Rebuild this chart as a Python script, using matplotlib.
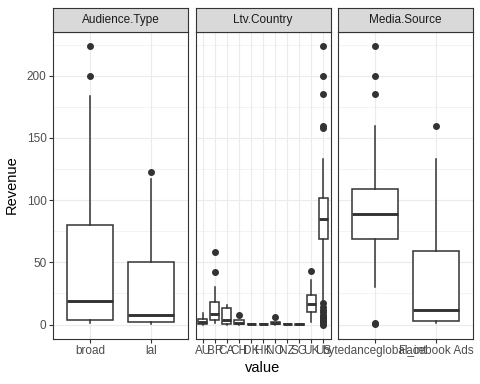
import matplotlib
matplotlib.use("Agg")
import matplotlib.pyplot as plt

plt.rcParams['font.family'] = ['Liberation Sans', 'DejaVu Sans']

# Audience.Type
aud_labels = ["broad", "lal"]
aud_q1 = [4, 2.4]
aud_med = [19, 8]
aud_q3 = [80, 50]
aud_lo = [1.3, 0.5]
aud_hi = [184, 117]
aud_fliers = [[200, 224], [123]]

# Ltv.Country
cty_labels = ["AU", "BR", "CA", "CH", "DK", "HK", "NO", "NZ", "SG", "UK", "US"]
cty_q1 = [0.3, 4, 0.8, 0.2, 0.1, 0.1, 0.2, 0.3, 0.0, 10, 68.5]
cty_med = [2.4, 8.2, 4, 1.3, 0.2, 0.2, 1, 0.5, 0.1, 16.5, 84.5]
cty_q3 = [4.5, 17.8, 13, 3.5, 0.3, 0.3, 2, 0.7, 0.2, 23.4, 102]
cty_lo = [0, 1.3, 0, 0, 0.1, 0.1, 0, 0.3, 0.0, 2, 19]
cty_hi = [9.3, 30.6, 16, 3.5, 0.3, 0.3, 2, 0.7, 0.2, 36, 133]
cty_fliers = [[], [42, 58], [], [8], [], [], [6], [], [], [43],
              [0, 1, 2, 3, 4, 5, 6, 8, 10, 12, 14, 17, 158, 160, 185, 200, 224]]

# Media.Source
med_labels = ["bytedanceglobal_int", "Facebook Ads"]
med_q1 = [69, 2.5]
med_med = [89, 12]
med_q3 = [108.7, 59]
med_lo = [30.5, 1]
med_hi = [160, 133]
med_fliers = [[0.5, 1.5, 185, 200, 224], [160]]

facets = [
    ("Audience.Type", aud_labels, aud_q1, aud_med, aud_q3, aud_lo, aud_hi, aud_fliers),
    ("Ltv.Country", cty_labels, cty_q1, cty_med, cty_q3, cty_lo, cty_hi, cty_fliers),
    ("Media.Source", med_labels, med_q1, med_med, med_q3, med_lo, med_hi, med_fliers),
]

dark = "#333333"
W, H = 480, 384
fig = plt.figure(figsize=(4.8, 3.84), dpi=100)

pw = 135
lefts = [53, 195.6, 338.2]
ptop, pbot = 32, 338.5
stop = 7.5

for (title, labels, q1, md, q3, lo, hi, fl), lx in zip(facets, lefts):
    ax = fig.add_axes([lx / W, (H - pbot) / H, pw / W, (pbot - ptop) / H])
    stats = []
    for i in range(len(labels)):
        stats.append(dict(med=md[i], q1=q1[i], q3=q3[i], whislo=lo[i],
                          whishi=hi[i], fliers=fl[i]))
    pos = list(range(1, len(labels) + 1))
    ax.bxp(stats, positions=pos, widths=0.75, showcaps=False, patch_artist=True,
           boxprops=dict(facecolor="white", edgecolor=dark, linewidth=1.1),
           medianprops=dict(color=dark, linewidth=2.1, solid_capstyle="butt"),
           whiskerprops=dict(color=dark, linewidth=1.1),
           flierprops=dict(marker="o", markerfacecolor=dark, markeredgecolor=dark,
                           markersize=4.0, linestyle="none"),
           zorder=3)
    n = len(labels)
    ax.set_xlim(0.4, n + 0.6)
    ax.set_ylim(-11.2, 235.2)
    ax.set_xticks(pos)
    ax.set_xticklabels(labels)
    ax.set_yticks([0, 50, 100, 150, 200])
    ax.set_yticks([25, 75, 125, 175, 225], minor=True)
    ax.grid(True, which="major", color="#EBEBEB", linewidth=0.8, zorder=0)
    ax.grid(True, which="minor", axis="y", color="#EBEBEB", linewidth=0.4, zorder=0)
    ax.set_axisbelow(True)
    for s in ax.spines.values():
        s.set_color(dark)
        s.set_linewidth(0.8)
    ax.tick_params(axis="both", which="major", length=2.7, width=0.8, color=dark,
                   labelsize=8.5, labelcolor="#4D4D4D", pad=2)
    ax.tick_params(axis="both", which="minor", length=0)
    if lx != lefts[0]:
        ax.tick_params(axis="y", labelleft=False, length=0)

    # strip
    sax = fig.add_axes([lx / W, (H - ptop) / H, pw / W, (ptop - stop) / H])
    sax.set_facecolor("#D9D9D9")
    sax.set_xticks([])
    sax.set_yticks([])
    for s in sax.spines.values():
        s.set_color(dark)
        s.set_linewidth(0.8)
    sax.text(0.5, 0.5, title, ha="center", va="center", fontsize=8.5,
             color="#1A1A1A", transform=sax.transAxes)

fig.text(263 / W, (H - 368) / H, "value", ha="center", va="center", fontsize=10.5)
fig.text(12 / W, (H - 185) / H, "Revenue", ha="center", va="center", fontsize=10.5,
         rotation=90)

fig.savefig("out.png", dpi=100)
